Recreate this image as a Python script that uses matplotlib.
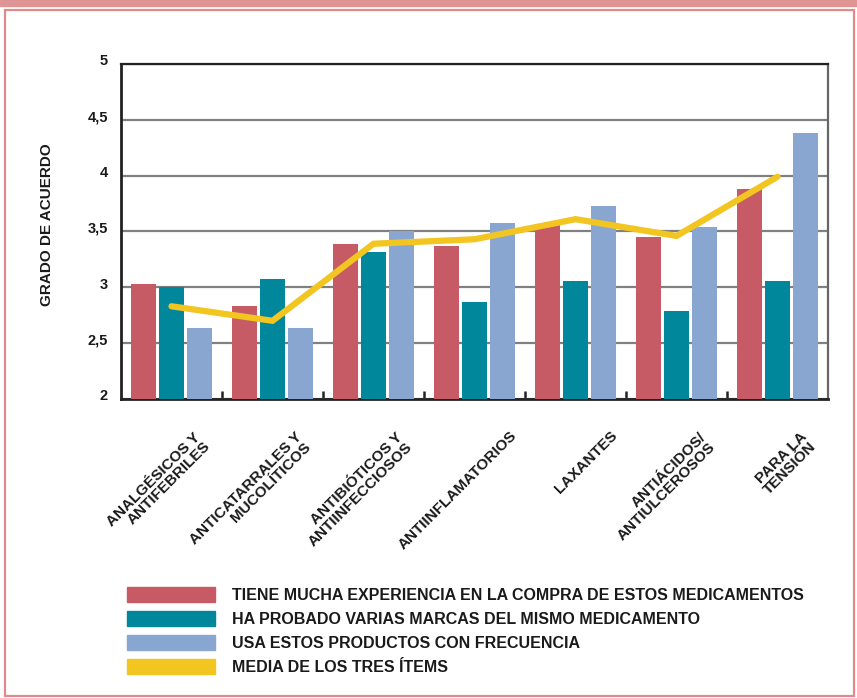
import numpy as np
import matplotlib.pyplot as plt
from matplotlib.patches import Patch, Rectangle
from matplotlib.transforms import ScaledTranslation

plt.rcParams['font.family'] = ['Liberation Sans', 'DejaVu Sans']
plt.rcParams['font.weight'] = 'bold'

# Data
categorias = ['ANALGÉSICOS Y\nANTIFEBRILES', 'ANTICATARRALES Y\nMUCOLÍTICOS',
              'ANTIBIÓTICOS Y\nANTIINFECCIOSOS', 'ANTIINFLAMATORIOS', 'LAXANTES',
              'ANTIÁCIDOS/\nANTIULCEROSOS', 'PARA LA\nTENSIÓN']
experiencia = [3.03, 2.83, 3.39, 3.37, 3.56, 3.45, 3.88]
marcas = [3.00, 3.07, 3.32, 2.87, 3.06, 2.79, 3.06]
frecuencia = [2.64, 2.64, 3.50, 3.58, 3.73, 3.54, 4.38]
media = [2.83, 2.70, 3.39, 3.43, 3.61, 3.46, 3.99]
yticks = [2, 2.5, 3, 3.5, 4, 4.5, 5]
ytick_labels = ['2', '2,5', '3', '3,5', '4', '4,5', '5']
leyenda = ['TIENE MUCHA EXPERIENCIA EN LA COMPRA DE ESTOS MEDICAMENTOS',
           'HA PROBADO VARIAS MARCAS DEL MISMO MEDICAMENTO',
           'USA ESTOS PRODUCTOS CON FRECUENCIA',
           'MEDIA DE LOS TRES ÍTEMS']

c_red = '#c75b65'
c_teal = '#00879b'
c_blue = '#88a6cf'
c_yel = '#f2c520'
c_txt = '#1a1a1a'

fig = plt.figure(figsize=(8.57, 6.98), dpi=100)
ax = fig.add_axes([0.1412, 0.4284, 0.825, 0.48])

x = np.arange(len(categorias))
w = 0.245
step = 0.274
ax.bar(x - step, np.array(experiencia) - 2, w, bottom=2, color=c_red, zorder=3)
ax.bar(x, np.array(marcas) - 2, w, bottom=2, color=c_teal, zorder=3)
ax.bar(x + step, np.array(frecuencia) - 2, w, bottom=2, color=c_blue, zorder=3)
ax.plot(x, media, color=c_yel, lw=4.5, solid_capstyle='round', solid_joinstyle='miter', zorder=4)

ax.set_xlim(-0.5, len(categorias) - 0.5)
ax.set_ylim(2, 5)
ax.set_yticks(yticks)
ax.set_yticklabels(ytick_labels)
ax.yaxis.grid(True, color='#808080', lw=1.6, zorder=0)
ax.tick_params(axis='y', length=0, pad=9.5, labelsize=10.5, labelcolor=c_txt)
for lab in ax.get_yticklabels():
    lab.set_transform(lab.get_transform() + ScaledTranslation(0, 4 / 100, fig.dpi_scale_trans))

ax.set_xticks([])
ax.set_xticks(np.arange(0.5, len(categorias) - 0.5), minor=True)
ax.tick_params(axis='x', which='minor', direction='in', length=6, width=1.8, color='#222222')

for s in ['left', 'bottom', 'top']:
    ax.spines[s].set_color('#222222')
ax.spines['left'].set_linewidth(2)
ax.spines['bottom'].set_linewidth(2)
ax.spines['top'].set_linewidth(1.6)
ax.spines['right'].set_color('#666666')
ax.spines['right'].set_linewidth(1.6)

# Etiquetas del eje x giradas (alineadas a la derecha)
for i, cat in enumerate(categorias):
    if '\n' in cat:
        off = ScaledTranslation(0.22, -0.31, fig.dpi_scale_trans)
    else:
        off = ScaledTranslation(0.35, -0.29, fig.dpi_scale_trans)
    ax.text(i, 0, cat, transform=ax.get_xaxis_transform() + off, rotation=45,
            rotation_mode='anchor', ha='right', va='top', multialignment='right',
            fontsize=11, linespacing=0.95, color=c_txt)

fig.text(0.055, 0.678, 'GRADO DE ACUERDO', rotation=90, ha='center', va='center',
         fontsize=11, color=c_txt)

handles = [Patch(color=c) for c in [c_red, c_teal, c_blue, c_yel]]
fig.legend(handles, leyenda, loc='upper left', bbox_to_anchor=(0.148, 0.159),
           frameon=False, fontsize=11.5, handlelength=5.5, handleheight=1.06,
           handletextpad=1.06, labelspacing=0.5, borderpad=0, borderaxespad=0,
           labelcolor=c_txt)

# Marco rosa
fig.patches.append(Rectangle((0, 1 - 6 / 698), 1, 6 / 698, transform=fig.transFigure,
                             color='#e09595', zorder=0))
fig.patches.append(Rectangle((5 / 857, 2 / 698), 849 / 857, 686 / 698, transform=fig.transFigure,
                             fill=False, edgecolor='#e08a8a', lw=1.6, zorder=0))

fig.savefig('out.png', dpi=100)
